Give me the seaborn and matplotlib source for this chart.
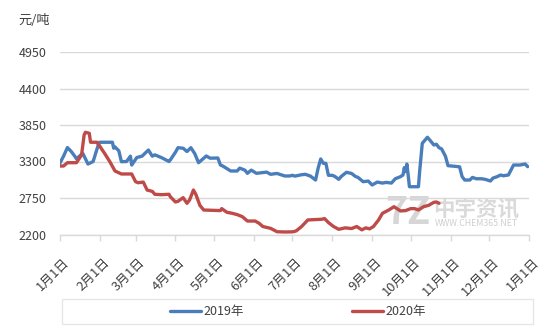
import matplotlib
matplotlib.use("Agg")
import matplotlib.pyplot as plt
from matplotlib.lines import Line2D
from matplotlib.patches import Rectangle
from matplotlib.transforms import ScaledTranslation
import pandas as pd
import seaborn as sns

# 2019 price series (month-day, 元/吨)
days_2019 = ["01-01", "01-04", "01-07", "01-10", "01-13", "01-14", "01-18", "01-19", "01-23",
             "01-27", "01-31", "02-01", "02-11", "02-12", "02-13", "02-16", "02-18", "02-22",
             "02-25", "02-26", "03-02", "03-06", "03-11", "03-14", "03-16", "03-21", "03-27",
             "03-28", "04-01", "04-03", "04-07", "04-10", "04-13", "04-16", "04-19", "04-25",
             "04-28", "05-04", "05-06", "05-08", "05-14", "05-19", "05-21", "05-25", "05-27",
             "05-30", "06-03", "06-11", "06-14", "06-19", "06-25", "06-29", "07-01", "07-03",
             "07-08", "07-11", "07-15", "07-19", "07-21", "07-23", "07-25", "07-27", "07-29",
             "08-01", "08-03", "08-06", "08-08", "08-12", "08-16", "08-19", "08-21", "08-25",
             "08-29", "09-01", "09-05", "09-09", "09-12", "09-16", "09-19", "09-23", "09-25",
             "09-26", "09-27", "09-28", "09-29", "09-30", "10-07", "10-08", "10-10", "10-14",
             "10-16", "10-19", "10-21", "10-23", "10-25", "10-28", "10-30", "11-03", "11-08",
             "11-10", "11-12", "11-16", "11-18", "11-21", "11-25", "11-28", "12-02", "12-04",
             "12-07", "12-10", "12-12", "12-16", "12-18", "12-20", "12-25", "12-29", "12-31"]
price_2019 = [3270, 3380, 3510, 3450, 3372, 3340, 3409, 3420, 3262,
              3300, 3549, 3590, 3590, 3500, 3520, 3460, 3297, 3300,
              3380, 3247, 3360, 3380, 3473, 3380, 3400, 3360, 3300,
              3323, 3439, 3508, 3500, 3450, 3508, 3420, 3282, 3383,
              3350, 3353, 3247, 3230, 3157, 3157, 3200, 3170, 3122,
              3170, 3122, 3140, 3107, 3120, 3082, 3082, 3092, 3080,
              3100, 3107, 3080, 3021, 3200, 3338, 3273, 3273, 3092,
              3092, 3075, 3031, 3075, 3137, 3120, 3075, 3060, 2996,
              3005, 2946, 2990, 2975, 2985, 2975, 3040, 3071, 3097,
              3207, 3147, 3262, 3100, 2920, 2920, 3160, 3574, 3665,
              3620, 3549, 3560, 3508, 3490, 3380, 3237, 3230, 3220,
              3071, 3021, 3021, 3060, 3040, 3040, 3031, 3006, 3050,
              3070, 3097, 3085, 3097, 3172, 3247, 3247, 3262, 3222]

# 2020 price series (month-day, 元/吨)
days_2020 = ["01-01", "01-04", "01-07", "01-14", "01-18", "01-20", "01-21", "01-24", "01-25",
             "01-30", "01-31", "02-01", "02-05", "02-09", "02-13", "02-18", "02-26", "03-01",
             "03-03", "03-07", "03-10", "03-14", "03-16", "03-21", "03-27", "03-28", "04-01",
             "04-03", "04-07", "04-10", "04-12", "04-15", "04-17", "04-20", "04-23", "05-06",
             "05-07", "05-11", "05-15", "05-19", "05-23", "05-27", "06-02", "06-05", "06-08",
             "06-14", "06-19", "06-25", "07-01", "07-03", "07-04", "07-08", "07-13", "07-24",
             "07-26", "07-29", "08-02", "08-06", "08-11", "08-16", "08-20", "08-24", "08-27",
             "08-30", "09-02", "09-06", "09-09", "09-14", "09-18", "09-23", "09-27", "10-01",
             "10-04", "10-07", "10-11", "10-15", "10-19", "10-21", "10-23"]
price_2020 = [3232, 3232, 3282, 3282, 3398, 3700, 3740, 3725, 3590,
              3590, 3560, 3535, 3420, 3297, 3157, 3112, 3112, 2996,
              2980, 2990, 2870, 2850, 2806, 2800, 2806, 2770, 2690,
              2700, 2755, 2670, 2720, 2870, 2800, 2640, 2569, 2560,
              2590, 2535, 2520, 2500, 2469, 2403, 2403, 2370, 2320,
              2293, 2242, 2238, 2240, 2248, 2255, 2318, 2419, 2430,
              2440, 2380, 2320, 2278, 2300, 2290, 2320, 2270, 2300,
              2285, 2320, 2419, 2519, 2570, 2619, 2555, 2560, 2590,
              2590, 2570, 2619, 2640, 2685, 2690, 2670]

series_names = ["2019年", "2020年"]
series_colors = ["#4A7EBB", "#BE4B48"]
y_ticks = [2200, 2750, 3300, 3850, 4400, 4950]
month_labels = [f"{m}月1日" for m in range(1, 13)] + ["1月1日"]

# both years share one calendar axis so that the months line up
frames = []
for name, days, vals in [(series_names[0], days_2019, price_2019),
                         (series_names[1], days_2020, price_2020)]:
    frames.append(pd.DataFrame({
        "date": pd.to_datetime(["2019-" + d for d in days]),
        "price": vals,
        "year": name,
    }))
df = pd.concat(frames, ignore_index=True)

sns.set_style("white")
plt.rcParams["font.family"] = ["Noto Sans CJK SC", "DejaVu Sans"]

W, H = 554, 332
fig = plt.figure(figsize=(W / 100, H / 100), dpi=100)
ax = fig.add_axes([59.7 / W, 1 - 234.5 / H, (529 - 59.7) / W, (234.5 - 52) / H])

# watermark behind the data lines
ax.text(0.742, 0.118, "7Z", transform=ax.transAxes, fontsize=27, fontweight="bold",
        style="italic", color="#d6d6d6", ha="center", va="center", zorder=0)
ax.text(0.887, 0.14, "中宇资讯", transform=ax.transAxes, fontsize=15.5, fontweight="bold",
        color="#dadada", ha="center", va="center", zorder=0)
ax.text(0.888, 0.058, "WWW.CHEM365.NET", transform=ax.transAxes, fontsize=6.3,
        color="#cfcfcf", ha="center", va="center", zorder=0)

sns.lineplot(data=df, x="date", y="price", hue="year", hue_order=series_names,
             palette=series_colors, linewidth=2.4, legend=False, ax=ax, zorder=3)

ax.set_xlim(pd.Timestamp("2019-01-01"), pd.Timestamp("2020-01-01"))
ax.set_ylim(y_ticks[0], y_ticks[-1])
ax.set_yticks(y_ticks)
ax.set_yticklabels([str(v) for v in y_ticks])
ticks = pd.date_range("2019-01-01", "2020-01-01", freq="MS")
ax.set_xticks(ticks)
ax.set_xticklabels(month_labels, rotation=45, ha="right", rotation_mode="anchor")
ax.set_xlabel("")
ax.set_ylabel("")

ax.grid(axis="y", color="#d9d9d9", linewidth=1)
ax.grid(axis="x", visible=False)
for side in ["top", "right", "left"]:
    ax.spines[side].set_visible(False)
ax.spines["bottom"].set_color("#d9d9d9")
ax.spines["bottom"].set_linewidth(1)
ax.tick_params(axis="x", which="major", length=4, width=1, color="#d9d9d9",
               labelsize=9.3, labelcolor="#404040", pad=11, direction="out", bottom=True)
ax.tick_params(axis="y", length=0, labelsize=9, labelcolor="#404040", pad=9.5)

# nudge the slanted month labels a little to the right of their ticks
shift = ScaledTranslation(3 / 100, 0, fig.dpi_scale_trans)
for lbl in ax.get_xticklabels():
    lbl.set_transform(lbl.get_transform() + shift)

fig.text(18 / W, 1 - 20 / H, "元/吨", fontsize=9.5, color="#404040", ha="left", va="center")

# legend frame and entries
fig.patches.append(Rectangle((62 / W, 1 - 324 / H), (533 - 62) / W, 25 / H,
                             transform=fig.transFigure, facecolor="none",
                             edgecolor="#e6e6e6", linewidth=1))
handles = [Line2D([], [], color=c, linewidth=2.4) for c in series_colors]
fig.legend(handles, series_names, loc="center", bbox_to_anchor=(298 / W, 1 - 311.5 / H),
           ncol=2, frameon=False, fontsize=9, handlelength=2.5, handletextpad=0.2,
           columnspacing=8.6, labelcolor="#404040")

fig.savefig("out.png", dpi=100)
